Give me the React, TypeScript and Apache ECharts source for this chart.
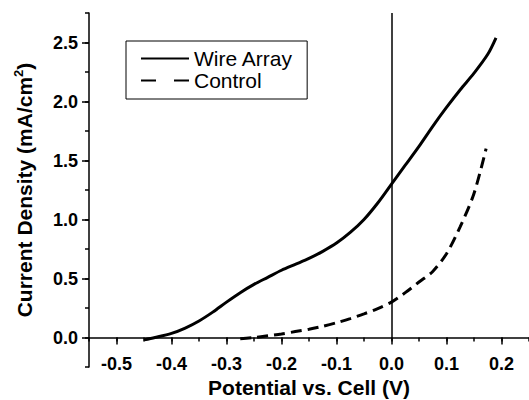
import { useEffect, useRef } from "react";
import * as echarts from "echarts";

// Wire Array (solid) — potential (V) and current density (mA/cm2)
const wireArrayV = [-0.45, -0.43, -0.4, -0.375, -0.35, -0.325, -0.3, -0.275, -0.25, -0.225, -0.2, -0.175, -0.15, -0.125, -0.1, -0.075, -0.05, -0.025, 0.0, 0.025, 0.05, 0.075, 0.1, 0.125, 0.15, 0.175, 0.19];
const wireArrayJ = [-0.02, 0.0, 0.035, 0.08, 0.14, 0.215, 0.3, 0.38, 0.45, 0.51, 0.57, 0.62, 0.67, 0.73, 0.8, 0.89, 1.0, 1.14, 1.3, 1.46, 1.62, 1.79, 1.95, 2.1, 2.24, 2.4, 2.54];

// Control (dashed)
const controlV = [-0.275, -0.25, -0.225, -0.2, -0.175, -0.15, -0.125, -0.1, -0.075, -0.05, -0.025, 0.0, 0.025, 0.05, 0.075, 0.1, 0.125, 0.15, 0.172];
const controlJ = [-0.01, 0.0, 0.015, 0.03, 0.05, 0.07, 0.095, 0.125, 0.16, 0.2, 0.245, 0.3, 0.38, 0.47, 0.56, 0.71, 0.94, 1.22, 1.6];

// Axis ranges and tick steps
const xRange = [-0.55, 0.25];
const xMajor = { min: -0.5, max: 0.2, step: 0.1 };
const xMinorStep = 0.05;
const yRange = [-0.25, 2.75];
const yMajor = { min: 0.0, max: 2.5, step: 0.5 };
const yMinorStep = 0.25;

const FONT = "'Liberation Sans', Arial, Helvetica, sans-serif";

// Layout of the plotting frame (pixels)
const W = 529;
const H = 400;
const G = { left: 89, right: 0, top: 13, bottom: 33 };

export default function App() {
  const ref = useRef<HTMLDivElement>(null);

  useEffect(() => {
    document.body.style.margin = "0";
    if (!ref.current) return;
    const chart = echarts.init(ref.current, null, { renderer: "svg" });

    // pixel scales of the main frame, used to place a label/major-tick frame over it
    const plotW = W - G.left - G.right;
    const plotH = H - G.top - G.bottom;
    const pxPerX = plotW / (xRange[1] - xRange[0]);
    const pxPerY = plotH / (yRange[1] - yRange[0]);
    const G2 = {
      left: G.left + (xMajor.min - xRange[0]) * pxPerX,
      right: G.right + (xRange[1] - xMajor.max) * pxPerX,
      top: G.top + (yRange[1] - yMajor.max) * pxPerY,
      bottom: G.bottom + (yMajor.min - yRange[0]) * pxPerY,
    };
    const zeroOffset = (0 - yRange[0]) * pxPerY; // distance from frame bottom to y = 0

    const axisLineStyle = { color: "#000", width: 1.5 };
    const tickStyle = { color: "#000", width: 1.5 };
    const labelStyle = { fontSize: 18, fontWeight: "bold", fontFamily: FONT, color: "#000" };

    chart.setOption({
      animation: false,
      backgroundColor: "#fff",
      grid: [
        { ...G, containLabel: false, outerBoundsMode: "none" },
        { ...G2, containLabel: false, outerBoundsMode: "none" },
      ],
      legend: {
        orient: "vertical",
        left: 126,
        top: 41,
        padding: [7, 14, 8, 14],
        itemWidth: 48,
        itemHeight: 14,
        itemGap: 1,
        borderColor: "#000",
        borderWidth: 1,
        itemStyle: { color: "transparent", borderColor: "transparent", borderWidth: 0, opacity: 0 },
        textStyle: { fontSize: 21, fontFamily: FONT, color: "#000" },
        data: [
          { name: "Wire Array" },
          { name: "Control", lineStyle: { type: [15, 18] } },
        ],
      },
      xAxis: [
        {
          gridIndex: 0,
          type: "value",
          min: xRange[0],
          max: xRange[1],
          interval: xMinorStep,
          position: "bottom",
          offset: -zeroOffset,
          axisLine: { show: true, onZero: false, lineStyle: axisLineStyle },
          axisTick: { show: true, inside: false, length: 4, lineStyle: tickStyle },
          axisLabel: { show: false },
          splitLine: { show: false },
        },
        {
          gridIndex: 1,
          type: "value",
          min: xMajor.min,
          max: xMajor.max,
          interval: xMajor.step,
          position: "bottom",
          name: "Potential vs. Cell (V)",
          nameLocation: "middle",
          nameGap: 39,
          nameTextStyle: { fontSize: 21, fontWeight: "bold", fontFamily: FONT, color: "#000" },
          axisLine: { show: false, onZero: false },
          axisTick: { show: true, inside: false, length: 7, lineStyle: tickStyle },
          axisLabel: {
            show: true,
            margin: 17,
            ...labelStyle,
            showMinLabel: true,
            showMaxLabel: true,
            formatter: (v: number) => v.toFixed(1),
          },
          splitLine: { show: false },
        },
      ],
      yAxis: [
        {
          gridIndex: 0,
          type: "value",
          min: yRange[0],
          max: yRange[1],
          interval: yMinorStep,
          position: "left",
          axisLine: { show: true, onZero: false, lineStyle: axisLineStyle },
          axisTick: { show: true, inside: false, length: 4, lineStyle: tickStyle },
          axisLabel: { show: false },
          splitLine: { show: false },
        },
        {
          gridIndex: 1,
          type: "value",
          min: yMajor.min,
          max: yMajor.max,
          interval: yMajor.step,
          position: "left",
          offset: G2.left - G.left,
          name: "{a|Current Density (mA/cm}{s|2}{a|)}",
          nameLocation: "middle",
          nameRotate: 90,
          nameGap: 52,
          nameTextStyle: {
            rich: {
              a: { fontSize: 21, fontWeight: "bold", fontFamily: FONT, color: "#000", lineHeight: 25 },
              s: { fontSize: 13, fontWeight: "bold", fontFamily: FONT, color: "#000", verticalAlign: "top", lineHeight: 25 },
            },
          },
          axisLine: { show: false, onZero: false },
          axisTick: { show: true, inside: false, length: 7, lineStyle: tickStyle },
          axisLabel: {
            show: true,
            margin: 11,
            ...labelStyle,
            formatter: (v: number) => v.toFixed(1),
          },
          splitLine: { show: false },
        },
      ],
      series: [
        {
          name: "Wire Array",
          type: "line",
          xAxisIndex: 0,
          yAxisIndex: 0,
          data: wireArrayV.map((v, i) => [v, wireArrayJ[i]]),
          symbol: "none",
          smooth: 0.3,
          lineStyle: { color: "#000", width: 3 },
          itemStyle: { color: "#000" },
          markLine: {
            silent: true,
            symbol: ["none", "none"],
            label: { show: false },
            lineStyle: { color: "#000", width: 1.5, type: "solid" },
            data: [[{ coord: [0, 0] }, { coord: [0, yRange[1]] }]],
          },
        },
        {
          name: "Control",
          type: "line",
          xAxisIndex: 0,
          yAxisIndex: 0,
          data: controlV.map((v, i) => [v, controlJ[i]]),
          symbol: "none",
          smooth: 0.3,
          lineStyle: { color: "#000", width: 3, type: [11, 6] },
          itemStyle: { color: "#000" },
        },
      ],
    });

    return () => chart.dispose();
  }, []);

  return <div ref={ref} style={{ width: W, height: H }} />;
}
